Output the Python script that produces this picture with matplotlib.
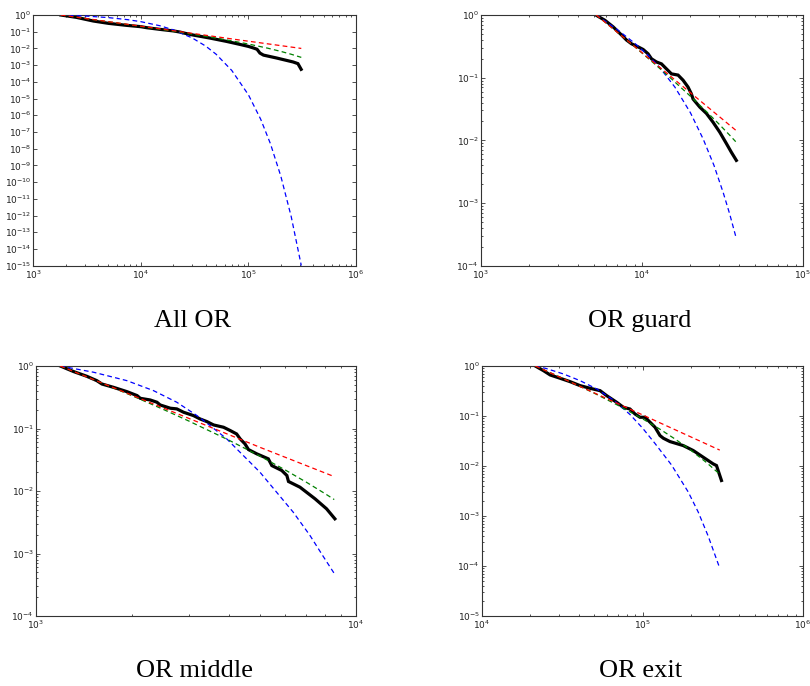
import matplotlib
matplotlib.use("Agg")
import matplotlib.pyplot as plt
from matplotlib.ticker import LogLocator, NullLocator, LogFormatterSciNotation

# ---------------- data ----------------
# Panel "All OR"
all_emp_x = [1800, 2512, 3614, 5012, 7379, 10000, 11324, 15066, 19953, 23121, 25119,
             30690, 43853, 62661, 83368, 100000, 110917, 120226, 127938, 138038,
             181970, 260016, 288403, 309030]
all_emp_y = [1.0, 0.724, 0.437, 0.316, 0.240, 0.200, 0.174, 0.138, 0.112, 0.0955, 0.0832,
             0.0631, 0.0417, 0.0263, 0.0174, 0.0132, 0.0107, 0.00891, 0.00525, 0.00398,
             0.00269, 0.00155, 0.00123, 0.000562]
all_pl_x = [1800, 5000, 20000, 80000, 310000]
all_pl_y = [1.0, 0.399, 0.115, 0.0329, 0.0100]
all_tpl_x = [1800, 3000, 5000, 10000, 20000, 40000, 70000, 100000, 150000, 200000, 250000, 310000]
all_tpl_y = [1.0, 0.628, 0.394, 0.207, 0.1067, 0.0528, 0.0284, 0.0183, 0.01045, 0.00664, 0.00447, 0.00291]
all_exp_x = [1800, 3000, 5000, 7500, 10000, 15000, 20000, 30000, 40000, 50000, 70000,
             100000, 130000, 160000, 200000, 250000, 310000]
all_exp_y = [1.0, 0.875, 0.698, 0.528, 0.399, 0.228, 0.130, 0.0425, 0.01387, 0.00453, 4.82e-4,
             1.67e-5, 5.81e-7, 2.02e-8, 2.29e-10, 8.51e-13, 1.02e-15]

# Panel "OR guard"
grd_emp_x = [5164, 5888, 6622, 7464, 8017, 8610, 9484, 10162, 10914, 11455, 12303, 13213,
             14191, 15241, 16749, 17989, 19320, 20277, 20749, 22856, 25119, 27606, 30409,
             33420, 35892, 38548]
grd_emp_y = [1.0, 0.822, 0.646, 0.479, 0.398, 0.347, 0.309, 0.282, 0.240, 0.200, 0.178, 0.166,
             0.138, 0.115, 0.110, 0.0912, 0.0708, 0.0550, 0.0457, 0.0339, 0.0269, 0.0195,
             0.0135, 0.00891, 0.00646, 0.00479]
grd_pl_x = [5200, 9000, 15000, 25000, 38200]
grd_pl_y = [1.0, 0.314, 0.106, 0.0358, 0.01452]
grd_tpl_x = [5200, 7000, 9000, 12000, 15000, 20000, 25000, 30000, 35000, 38200]
grd_tpl_y = [1.0, 0.536, 0.312, 0.165, 0.0993, 0.0505, 0.0291, 0.0183, 0.01213, 0.00953]
grd_exp_x = [5200, 7000, 9000, 11000, 13000, 16000, 20000, 24000, 28000, 32000, 35000, 38200]
grd_exp_y = [1.0, 0.589, 0.355, 0.224, 0.141, 0.0708, 0.0275, 0.01047, 0.00398, 0.001445, 6.76e-4, 2.95e-4]

# Panel "OR middle"
mid_emp_x = [1191, 1312, 1442, 1549, 1607, 1746, 1923, 2070, 2118, 2275, 2388, 2443, 2630,
             2754, 2891, 3105, 3258, 3420, 3589, 3855, 4046, 4236, 4345, 4498, 4613, 4898,
             5321, 5458, 5861, 6081, 6152, 6683, 7447, 8091, 8590]
mid_emp_y = [1.0, 0.813, 0.684, 0.583, 0.515, 0.456, 0.389, 0.336, 0.304, 0.286, 0.263, 0.238,
             0.211, 0.206, 0.182, 0.161, 0.142, 0.129, 0.114, 0.1047, 0.0927, 0.0818, 0.0682,
             0.0568, 0.0460, 0.0393, 0.0327, 0.0255, 0.0213, 0.0177, 0.0142, 0.0115, 0.0075,
             0.00519, 0.00359]
mid_pl_x = [1190, 2000, 3000, 5000, 8550]
mid_pl_y = [1.0, 0.339, 0.1456, 0.0502, 0.0170]
mid_tpl_x = [1190, 1500, 2000, 2500, 3000, 4000, 5000, 6000, 7000, 8000, 8550]
mid_tpl_y = [1.0, 0.618, 0.333, 0.202, 0.132, 0.0653, 0.0364, 0.0218, 0.0138, 0.00908, 0.00730]
mid_exp_x = [1191, 1514, 1923, 2328, 2754, 3184, 3499, 3945, 4446, 5012, 5649, 6368, 7178, 7907, 8551]
mid_exp_y = [1.0, 0.794, 0.583, 0.404, 0.263, 0.161, 0.1114, 0.0682, 0.0369, 0.01995, 0.00955,
             0.00457, 0.00195, 8.91e-4, 4.79e-4]

# Panel "OR exit"
ext_emp_x = [21478, 24155, 26607, 30690, 35400, 40832, 47206, 54450, 59841, 69024, 76033,
             83560, 89743, 96383, 103753, 111429, 119674, 128529, 134896, 148252, 179473,
             207014, 238781, 275423, 289068, 310456]
ext_emp_y = [1.0, 0.807, 0.661, 0.568, 0.486, 0.405, 0.358, 0.321, 0.255, 0.188, 0.149, 0.138,
             0.110, 0.0944, 0.0944, 0.0750, 0.0596, 0.0406, 0.0359, 0.0308, 0.0256, 0.0204,
             0.0150, 0.01104, 0.01021, 0.00513]
ext_pl_x = [21500, 40000, 100000, 303000]
ext_pl_y = [1.0, 0.403, 0.1053, 0.0208]
ext_tpl_x = [21500, 30000, 40000, 50000, 70000, 100000, 130000, 160000, 200000, 250000, 303000]
ext_tpl_y = [1.0, 0.619, 0.403, 0.286, 0.165, 0.0881, 0.0532, 0.0344, 0.0207, 0.01178, 0.00685]
ext_exp_x = [21478, 25119, 32211, 40832, 51880, 65917, 83560, 100000, 119674, 151705, 192752,
             222331, 256448, 303389]
ext_exp_y = [1.0, 0.891, 0.692, 0.509, 0.347, 0.209, 0.1072, 0.0575, 0.0282, 0.01047, 0.00302,
             0.001202, 3.98e-4, 8.91e-5]

titles = ["All OR", "OR guard", "OR middle", "OR exit"]
xlims = [(1e3, 1e6), (1e3, 1e5), (1e3, 1e4), (1e4, 1e6)]
ylims = [(1e-15, 1), (1e-4, 1), (1e-4, 1), (1e-5, 1)]

panels = [
    (all_emp_x, all_emp_y, all_pl_x, all_pl_y, all_tpl_x, all_tpl_y, all_exp_x, all_exp_y),
    (grd_emp_x, grd_emp_y, grd_pl_x, grd_pl_y, grd_tpl_x, grd_tpl_y, grd_exp_x, grd_exp_y),
    (mid_emp_x, mid_emp_y, mid_pl_x, mid_pl_y, mid_tpl_x, mid_tpl_y, mid_exp_x, mid_exp_y),
    (ext_emp_x, ext_emp_y, ext_pl_x, ext_pl_y, ext_tpl_x, ext_tpl_y, ext_exp_x, ext_exp_y),
]

# ---------------- layout ----------------
W, H = 810, 686
fig = plt.figure(figsize=(W / 100, H / 100), dpi=100)

boxes = [  # left, top, right, bottom in pixels
    (33.3, 15, 356, 265.7),
    (481, 15, 803, 265.7),
    (36, 366, 356, 616),
    (482, 366, 803, 616),
]
title_pos = [(193, 321), (640, 321), (195, 671), (641, 671)]

dash = (3.8, 2.6)
for i, (box, data) in enumerate(zip(boxes, panels)):
    l, t, r, b = box
    ax = fig.add_axes([l / W, 1 - b / H, (r - l) / W, (b - t) / H])
    ex, ey, px_, py_, tx, ty, xx, xy = data
    ax.plot(ex, ey, color='k', lw=2.3, solid_joinstyle='miter', zorder=2)
    ax.plot(xx, xy, color=(0, 0, 1), lw=0.9, ls='--', dashes=dash, zorder=3)
    ax.plot(tx, ty, color=(0, 0.5, 0), lw=0.9, ls='--', dashes=dash, zorder=3)
    ax.plot(px_, py_, color=(1, 0, 0), lw=0.9, ls='--', dashes=dash, zorder=3)
    ax.set_xscale('log')
    ax.set_yscale('log')
    ax.set_xlim(*xlims[i])
    ax.set_ylim(*ylims[i])
    ax.xaxis.set_major_locator(LogLocator(base=10, numticks=20))
    ax.xaxis.set_minor_locator(LogLocator(base=10, subs=range(2, 10), numticks=50))
    ax.yaxis.set_major_locator(LogLocator(base=10, numticks=30))
    if i == 0:
        ax.yaxis.set_minor_locator(NullLocator())
    else:
        ax.yaxis.set_minor_locator(LogLocator(base=10, subs=range(2, 10), numticks=50))
    ax.xaxis.set_major_formatter(LogFormatterSciNotation())
    ax.yaxis.set_major_formatter(LogFormatterSciNotation())
    ax.tick_params(which='both', direction='in', top=True, right=True,
                   labelsize=6.5, labelcolor='#222222', width=0.6, color='#333333')
    ax.tick_params(which='major', length=3.0, pad=2)
    ax.tick_params(which='minor', length=1.5)
    ax.tick_params(axis='y', which='major', pad=1.5)
    for s in ax.spines.values():
        s.set_linewidth(0.8)
        s.set_color('#333333')
    tx_, ty_ = title_pos[i]
    fig.text(tx_ / W, 1 - ty_ / H, titles[i], ha='center', va='center',
             fontsize=19, family='Liberation Serif', color='k')

fig.savefig("out.png", dpi=100)
